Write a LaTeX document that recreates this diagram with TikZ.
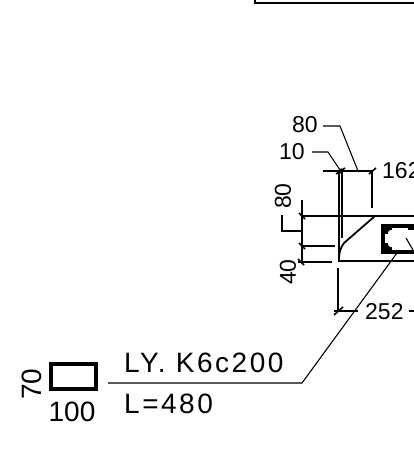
\documentclass[tikz,border=0pt]{standalone}
\usepackage{fontspec}
\setmainfont{Liberation Sans}
\newfontfamily\widesans[LetterSpace=9]{Liberation Sans}
\tikzset{
 thin line/.style={line width=1.1pt,black},
 tick line/.style={line width=1.6pt,black},
 mid line/.style={line width=1.8pt,black},
 thick line/.style={line width=3.2pt,black},
 small label/.style={font=\fontsize{23}{23}\selectfont,inner sep=0pt,black},
 big label/.style={font=\fontsize{28}{28}\selectfont,inner sep=0pt,black},
 wide label/.style={font=\fontsize{28}{28}\selectfont\widesans,inner sep=0pt,black},
}
\begin{document}
\begin{tikzpicture}[x=1pt,y=-1pt]
\useasboundingbox[fill=white] (0,0) rectangle (414,460);
% top fragment
\draw[mid line] (255,0) -- (255,3) -- (414,3);
% horizontal and vertical dimension lines
\draw[thin line] (323,171) -- (373,171);
\draw[thin line] (339,171) -- (339,262);
\draw[thin line] (342,171) -- (342,238);
\draw[thin line] (372,171) -- (372,208);
\draw[thin line] (338,268) -- (338,311);
\draw[thin line] (334,311) -- (358,311);
\draw[tick line] (334,315) -- (343,307);
\draw[thin line] (409,311) -- (414,311);
\draw[tick line] (369,174) -- (376,168);
\draw[tick line] (336,174) -- (345,168);
\fill (341,171) circle (2.6);
% height dimensions
\draw[thin line] (302,200) -- (302,262);
\draw[thin line] (302,216) -- (375,216);
\draw[thin line] (302,246) -- (335,246);
\draw[thin line] (298,262) -- (332,262);
\draw[tick line] (299,213) -- (305,219);
\draw[tick line] (299,243) -- (305,249);
\draw[tick line] (298,259) -- (304,265);
\draw[thin line] (282,215) -- (282,231) -- (302,231);
% section
\draw[mid line] (414,216) -- (375,216) -- (344,243) .. controls (341,247) and (339,251) .. (339,261) -- (414,261);
% rebar box
\draw[thick line] (383,226) rectangle (416,252);
\fill (382,225) rectangle (392,234);
\fill (382,243) rectangle (392,253);
\fill[white] (391,233) circle (3);
\fill[white] (391,244) circle (3);
\fill (408,225) rectangle (414,230);
\draw[thin line] (406,238) -- (413,250);
% leader
\draw[thin line] (397,253) -- (302,383) -- (108,383);
% leaders to 80, 10
\draw[thin line] (323,126) -- (340,126) -- (358,171);
\draw[thin line] (312,152) -- (328,152) -- (340,170);
% small rectangle
\draw[thick line] (51,364) rectangle (96,389);
% labels
\node[small label,anchor=west] (n80) at (292,125) {80};
\node[small label,anchor=west] (n10) at (279,152) {10};
\node[small label,anchor=west] (n162) at (382,171) {162};
\node[small label,anchor=west] (n252) at (365,312) {252};
\node[small label,rotate=90] (v80) at (283,196) {80};
\node[small label,rotate=90] (v40) at (288,272) {40};
\node[big label,rotate=90] (v70) at (32,384) {70};
\node[big label] (n100) at (72,412) {100};
\node[wide label,anchor=west] (ly) at (124,363) {LY.\ K6c200};
\node[wide label,anchor=west] (len) at (124,404) {L=480};
\end{tikzpicture}
\end{document}
